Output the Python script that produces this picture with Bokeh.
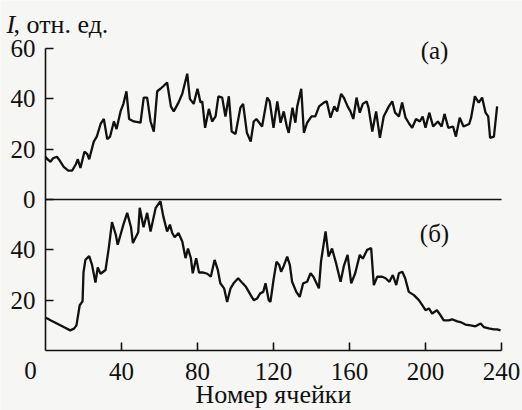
from bokeh.plotting import figure
from bokeh.models import FixedTicker, Label, LinearAxis
from bokeh.embed import file_html
from bokeh.resources import INLINE

# panel (a) – top curve: cell number, intensity
top_x = [0, 1, 2.6, 4, 6, 7, 9.6, 12, 14, 16, 17, 18.4, 20.5, 22, 23, 25.4, 27, 29, 30.7, 32.5,
         34, 36, 37.4, 39.5, 41, 42.6, 44, 46.5, 50, 51.7, 53.5, 55.3, 57, 58.8, 60.5, 62, 64, 66,
         67.5, 70, 72, 74.6, 76, 78, 80, 81.6, 82.5, 84, 86, 87.7, 89.5, 91, 93, 94.7, 96.5, 98,
         100, 102.6, 104, 106, 108, 109.6, 111, 113, 114, 116.7, 118, 120, 122, 123.7, 125.4, 127,
         128, 130, 131.5, 132.5, 134.6, 136, 137.7, 140, 142, 144, 146.5, 148, 150, 152, 153.5,
         155.6, 157, 159, 160.5, 162, 163.7, 165.4, 167, 169, 170, 172, 174, 176, 178, 180.7,
         182.5, 184, 186, 187.7, 189.5, 191.5, 193, 195, 197, 198.5, 200, 202, 204, 206.5, 208.5,
         210, 212, 214.5, 216, 218, 220, 223, 224, 226, 228, 229.8, 231.6, 233, 234, 236, 237.7]
top_v = [17, 16, 15, 16.4, 17, 16, 13, 11.5, 11.5, 14, 16, 12.5, 19, 18, 16, 23, 25, 30, 32, 24,
         25, 31, 28, 35, 38, 43, 32, 31, 30.5, 40.5, 40.5, 31, 27, 43, 44, 45, 46.5, 37,
         35, 38.5, 42, 50, 40, 38, 44, 38.5, 39, 28.5, 36, 31, 33, 41, 40.5, 33, 41, 27,
         26, 36.5, 38, 26.5, 23, 31, 32, 30, 29, 40.5, 39, 28.5, 39, 30.5, 35, 29,
         26.5, 36.5, 30.5, 37, 44, 26.5, 30.5, 33, 33, 37, 38.5, 39, 32.5, 37, 35,
         42, 40.5, 37, 35, 32, 40.5, 34.5, 38, 39, 36.5, 27, 35, 24.5, 33, 37,
         39, 34.5, 33, 38.5, 32.5, 30, 28.5, 32, 31, 33, 28.5, 34.5, 29, 31, 29,
         34, 28.5, 29, 25, 32.5, 29, 30, 32.5, 41, 38.5, 40.5, 34.5, 33, 24.5, 25, 37]

# panel (б) – bottom curve
bot_x = [0, 1, 2.6, 6, 9.6, 13, 15, 16.3, 18, 19.5, 20, 21, 23, 24.5, 26.3, 27.5, 29, 31.6, 33.3,
         35, 37, 38, 39.5, 41, 43, 45, 46, 48.8, 49.6, 51.6, 53.5, 55.3, 58, 60.5, 62, 64, 65.5,
         66.7, 68, 70, 72, 73.7, 75, 76.5, 77.5, 79.3, 80.8, 82.6, 85.2, 87, 89, 90.7, 92, 94,
         95.6, 97.4, 99, 101.4, 103, 105.5, 108, 109.6, 111.4, 113, 114.6, 115.8, 117.5, 118.4,
         120, 121.6, 123, 124, 125.4, 127.2, 128.6, 129.8, 132, 133.8, 135.6, 137.7, 139.5, 141,
         143.9, 145, 147.4, 149, 150.8, 153, 155.3, 157, 159, 160.9, 163, 165.4, 167, 169.3,
         171.4, 172.8, 174.6, 177.2, 179, 181, 182.8, 184.6, 186, 187.8, 189.3, 191.2, 193.9,
         196.5, 198.3, 200, 201.8, 203.5, 206, 207.9, 209.6, 212.3, 214, 216.7, 218.4, 221,
         223.7, 226.3, 229, 230.7, 233.3, 236, 237.7, 239.5]
bot_v = [13, 12.7, 12, 10.7, 9.3, 8, 8.7, 10, 18, 19.5, 31, 36, 37.5, 34, 27, 33, 30.5, 32, 40.7,
         51, 46, 42, 46, 50, 54.7, 49, 42.7, 47, 56.7, 49, 54.7, 47.3, 56.7, 59.3, 53.3, 47.3, 50,
         46.7, 45, 46.7, 43.3, 36.7, 40.5, 36.7, 30.7, 36.7, 31, 31, 30.5, 29.3, 36, 32, 26.7, 24.7,
         19.3, 24.7, 26.7, 28.7, 27.3, 25.3, 22, 20, 20.7, 22.7, 23.3, 26.7, 20, 19.3,
         28, 35.3, 34, 31.3, 33.6, 37.3, 34, 27.3, 23.3, 21.3, 26.7, 27.3, 30.7, 29.3,
         24.7, 35.3, 47.3, 37.3, 40.5, 34.5, 27.3, 33.5, 38, 26.7, 30.7, 38, 36.5, 40,
         40.7, 26, 29.3, 29.3, 28.7, 27.3, 30, 26, 30.7, 31.3, 28.7, 23.3, 22,
         20, 18, 16, 16.7, 14.7, 16, 14, 12, 12, 12.4, 11.6, 11.3, 10.3,
         10, 9.6, 10.7, 9.3, 8.8, 8.4, 8.4, 8]

x_ticks = [40, 80, 120, 160, 200, 240]
y_ticks = [20, 40, 60, 80, 100, 120]
y_tick_labels = ["20", "40", "0", "20", "40", "60"]
OFFSET = 60  # panel (a) sits above panel (б)

FONT = "Liberation Serif"
INK = "#111111"
BG = "#f6f6f4"

# frame covers the whole canvas; axes are pinned inside it
p = figure(width=522, height=410, output_backend="svg", toolbar_location=None,
           x_range=(-23.68, 251.05), y_range=(-23.84, 139.07),
           min_border=0, x_axis_location=None, y_axis_location=None)
p.background_fill_color = BG
p.border_fill_color = BG
p.outline_line_color = None
p.grid.visible = False

p.line(top_x, [v + OFFSET for v in top_v], line_color=INK, line_width=2.3)
p.line(bot_x, bot_v, line_color=INK, line_width=2.3)


def style_axis(ax):
    ax.axis_line_width = 1.6
    ax.axis_line_color = INK
    ax.major_tick_in = 8
    ax.major_tick_out = 0
    ax.major_tick_line_width = 1.6
    ax.major_tick_line_color = INK
    ax.minor_tick_line_color = None
    ax.major_label_text_font = FONT
    ax.major_label_text_font_size = "25px"
    ax.major_label_text_color = INK


xaxis = LinearAxis(fixed_location=0, bounds=(0, 240), ticker=FixedTicker(ticks=x_ticks))
style_axis(xaxis)
xaxis.major_label_standoff = 12
p.add_layout(xaxis, "below")

mid_axis = LinearAxis(fixed_location=OFFSET, bounds=(0, 240), ticker=FixedTicker(ticks=[]))
style_axis(mid_axis)
p.add_layout(mid_axis, "below")

yaxis = LinearAxis(fixed_location=0, bounds=(0, 120), ticker=FixedTicker(ticks=y_ticks))
style_axis(yaxis)
yaxis.major_label_overrides = {t: l for t, l in zip(y_ticks, y_tick_labels)}
yaxis.major_label_standoff = 10
p.add_layout(yaxis, "left")


def txt(x, y, s, size="25px", align="left", style="normal"):
    p.add_layout(Label(x=x, y=y, x_units="canvas", y_units="canvas", text=s,
                       text_font=FONT, text_font_size=size, text_font_style=style,
                       text_align=align, text_baseline="middle", text_color=INK))


txt(30, 370, "0", align="center")
txt(6, 24, "I", style="italic", size="26px")
txt(13, 24, ", отн. ед.", size="26px")
txt(273, 394, "Номер ячейки", size="26px", align="center")
txt(434, 50, "(а)", align="center")
txt(434, 233, "(б)", align="center")

open("out.html", "w").write(file_html(p, INLINE))
